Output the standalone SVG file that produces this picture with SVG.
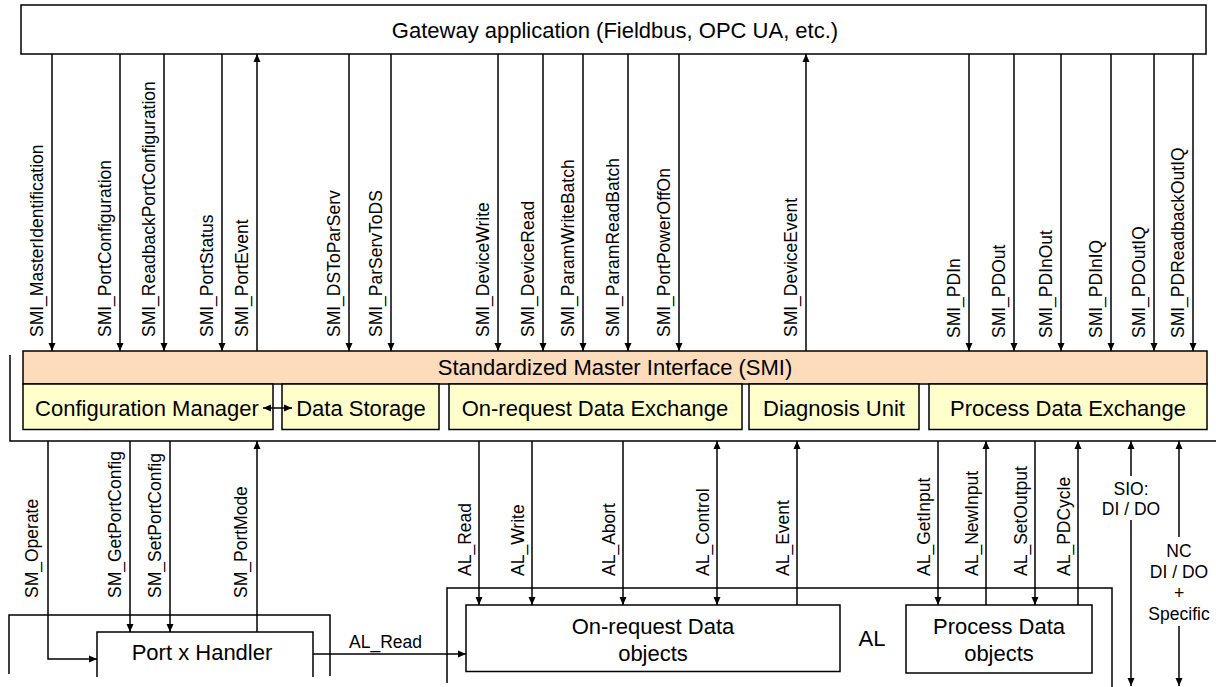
<svg xmlns="http://www.w3.org/2000/svg" width="1216" height="687" viewBox="0 0 1216 687">
<defs>
<marker id="ah" viewBox="0 0 8 8" refX="8" refY="4" markerWidth="8" markerHeight="8" markerUnits="userSpaceOnUse" orient="auto-start-reverse"><path d="M0,0.5 L8,4 L0,7.5 z" fill="#000"/></marker>
</defs>
<style>
.box{fill:#fff;stroke:#000;stroke-width:1.5}
.smi{fill:#fddcbb;stroke:#000;stroke-width:1.5}
.sub{fill:#ffffcc;stroke:#000;stroke-width:1.5}
.ln{fill:none;stroke:#000;stroke-width:1.5}
.c{fill:none;stroke:#000;stroke-width:1.5;marker-end:url(#ah)}
.d{fill:none;stroke:#000;stroke-width:1.5;marker-start:url(#ah);marker-end:url(#ah)}
.t{font-family:"Liberation Sans",Arial,sans-serif;font-size:22px;fill:#000;text-anchor:middle}
.l{font-family:"Liberation Sans",Arial,sans-serif;font-size:17.5px;fill:#000}
.m{font-family:"Liberation Sans",Arial,sans-serif;font-size:17.5px;fill:#000;text-anchor:middle}
</style>
<rect width="1216" height="687" fill="#fff"/>

<g id="frames">
<path class="ln" d="M10,355 V441 H1216"/>
<path class="ln" d="M9,674 V615 H330 V676"/>
<path class="ln" d="M447,683 V588 H1112 V687"/>
</g>

<g id="gateway">
<rect class="box" x="21" y="5" width="1185" height="49"/>
<text class="t" x="615" y="38">Gateway application (Fieldbus, OPC UA, etc.)</text>
</g>

<g id="smi">
<rect class="smi" x="23" y="351" width="1184" height="33"/>
<text class="t" x="615" y="375">Standardized Master Interface (SMI)</text>
</g>

<g id="config-manager">
<rect class="sub" x="23" y="384" width="250" height="45.5"/>
<text class="t" x="147" y="416">Configuration Manager</text>
</g>
<g id="data-storage">
<rect class="sub" x="282" y="384" width="157" height="45.5"/>
<text class="t" x="361" y="416">Data Storage</text>
</g>
<g id="on-request-exchange">
<rect class="sub" x="449" y="384" width="293" height="45.5"/>
<text class="t" x="595" y="416">On-request Data Exchange</text>
</g>
<g id="diagnosis-unit">
<rect class="sub" x="749" y="384" width="170" height="45.5"/>
<text class="t" x="834" y="416">Diagnosis Unit</text>
</g>
<g id="process-exchange">
<rect class="sub" x="929" y="384" width="278" height="45.5"/>
<text class="t" x="1068" y="416">Process Data Exchange</text>
</g>

<g id="port-handler">
<path d="M97,677 V632 H313 V677" fill="#fff" stroke="#000" stroke-width="1.5"/>
<text class="t" x="202" y="660">Port x Handler</text>
</g>

<g id="on-request-objects">
<rect class="box" x="466" y="605" width="374" height="66.5"/>
<text class="t" x="653" y="634">On-request Data</text>
<text class="t" x="653" y="661">objects</text>
</g>

<g id="process-objects">
<rect class="box" x="906" y="605" width="186" height="68"/>
<text class="t" x="999" y="634">Process Data</text>
<text class="t" x="999" y="661">objects</text>
</g>

<g id="al-label">
<text class="t" x="872" y="646">AL</text>
</g>

<g id="connectors">
<line class="c" x1="52" y1="54" x2="52" y2="351"/>
<line class="c" x1="120" y1="54" x2="120" y2="351"/>
<line class="c" x1="164" y1="54" x2="164" y2="351"/>
<line class="c" x1="222" y1="54" x2="222" y2="351"/>
<line class="c" x1="257" y1="351" x2="257" y2="54"/>
<line class="c" x1="349" y1="54" x2="349" y2="351"/>
<line class="c" x1="391" y1="54" x2="391" y2="351"/>
<line class="c" x1="498" y1="54" x2="498" y2="351"/>
<line class="c" x1="543" y1="54" x2="543" y2="351"/>
<line class="c" x1="583" y1="54" x2="583" y2="351"/>
<line class="c" x1="628" y1="54" x2="628" y2="351"/>
<line class="c" x1="679" y1="54" x2="679" y2="351"/>
<line class="c" x1="806" y1="351" x2="806" y2="54"/>
<line class="c" x1="969" y1="54" x2="969" y2="351"/>
<line class="c" x1="1014" y1="54" x2="1014" y2="351"/>
<line class="c" x1="1061" y1="54" x2="1061" y2="351"/>
<line class="c" x1="1111" y1="54" x2="1111" y2="351"/>
<line class="c" x1="1154" y1="54" x2="1154" y2="351"/>
<line class="c" x1="1193" y1="54" x2="1193" y2="351"/>
<line class="d" x1="263" y1="408" x2="292" y2="408"/>
<path class="c" d="M48,441 V659 H97"/>
<line class="c" x1="130" y1="441" x2="130" y2="632"/>
<line class="c" x1="170" y1="441" x2="170" y2="632"/>
<line class="c" x1="257" y1="632" x2="257" y2="441"/>
<line class="c" x1="313" y1="654" x2="466" y2="654"/>
<line class="c" x1="479" y1="441" x2="479" y2="605"/>
<line class="c" x1="532" y1="441" x2="532" y2="605"/>
<line class="c" x1="623" y1="441" x2="623" y2="605"/>
<line class="d" x1="717" y1="441" x2="717" y2="605"/>
<line class="c" x1="797" y1="605" x2="797" y2="441"/>
<line class="c" x1="938" y1="441" x2="938" y2="605"/>
<line class="c" x1="986" y1="605" x2="986" y2="441"/>
<line class="c" x1="1035" y1="441" x2="1035" y2="605"/>
<line class="c" x1="1078" y1="605" x2="1078" y2="441"/>
<line class="c" x1="1131" y1="476" x2="1131" y2="441"/>
<line class="c" x1="1131" y1="520" x2="1131" y2="686"/>
<line class="c" x1="1179" y1="537" x2="1179" y2="441"/>
<line class="c" x1="1179" y1="626" x2="1179" y2="686"/>
</g>

<g id="connector-labels">
<text class="l" transform="translate(43,337) rotate(-90)">SMI_MasterIdentification</text>
<text class="l" transform="translate(111,337) rotate(-90)">SMI_PortConfiguration</text>
<text class="l" transform="translate(155,337) rotate(-90)">SMI_ReadbackPortConfiguration</text>
<text class="l" transform="translate(213,337) rotate(-90)">SMI_PortStatus</text>
<text class="l" transform="translate(248,337) rotate(-90)">SMI_PortEvent</text>
<text class="l" transform="translate(340,337) rotate(-90)">SMI_DSToParServ</text>
<text class="l" transform="translate(382,337) rotate(-90)">SMI_ParServToDS</text>
<text class="l" transform="translate(489,337) rotate(-90)">SMI_DeviceWrite</text>
<text class="l" transform="translate(534,337) rotate(-90)">SMI_DeviceRead</text>
<text class="l" transform="translate(574,337) rotate(-90)">SMI_ParamWriteBatch</text>
<text class="l" transform="translate(619,337) rotate(-90)">SMI_ParamReadBatch</text>
<text class="l" transform="translate(670,337) rotate(-90)">SMI_PortPowerOffOn</text>
<text class="l" transform="translate(797,337) rotate(-90)">SMI_DeviceEvent</text>
<text class="l" transform="translate(960,338) rotate(-90)">SMI_PDIn</text>
<text class="l" transform="translate(1005,338) rotate(-90)">SMI_PDOut</text>
<text class="l" transform="translate(1052,338) rotate(-90)">SMI_PDInOut</text>
<text class="l" transform="translate(1102,338) rotate(-90)">SMI_PDInIQ</text>
<text class="l" transform="translate(1145,338) rotate(-90)">SMI_PDOutIQ</text>
<text class="l" transform="translate(1184,338) rotate(-90)">SMI_PDReadbackOutIQ</text>

<text class="l" transform="translate(38,598) rotate(-90)">SM_Operate</text>
<text class="l" transform="translate(121,598) rotate(-90)">SM_GetPortConfig</text>
<text class="l" transform="translate(161,598) rotate(-90)">SM_SetPortConfig</text>
<text class="l" transform="translate(247,598) rotate(-90)">SM_PortMode</text>
<text class="l" x="349" y="648">AL_Read</text>

<text class="l" transform="translate(471,576) rotate(-90)">AL_Read</text>
<text class="l" transform="translate(524,576) rotate(-90)">AL_Write</text>
<text class="l" transform="translate(615,576) rotate(-90)">AL_Abort</text>
<text class="l" transform="translate(709,576) rotate(-90)">AL_Control</text>
<text class="l" transform="translate(789,576) rotate(-90)">AL_Event</text>
<text class="l" transform="translate(930,576) rotate(-90)">AL_GetInput</text>
<text class="l" transform="translate(978,576) rotate(-90)">AL_NewInput</text>
<text class="l" transform="translate(1027,576) rotate(-90)">AL_SetOutput</text>
<text class="l" transform="translate(1070,576) rotate(-90)">AL_PDCycle</text>

<text class="m" x="1131" y="495">SIO:</text>
<text class="m" x="1131" y="515">DI / DO</text>
<text class="m" x="1179" y="557">NC</text>
<text class="m" x="1179" y="578">DI / DO</text>
<text class="m" x="1179" y="599">+</text>
<text class="m" x="1179" y="620">Specific</text>
</g>
</svg>
